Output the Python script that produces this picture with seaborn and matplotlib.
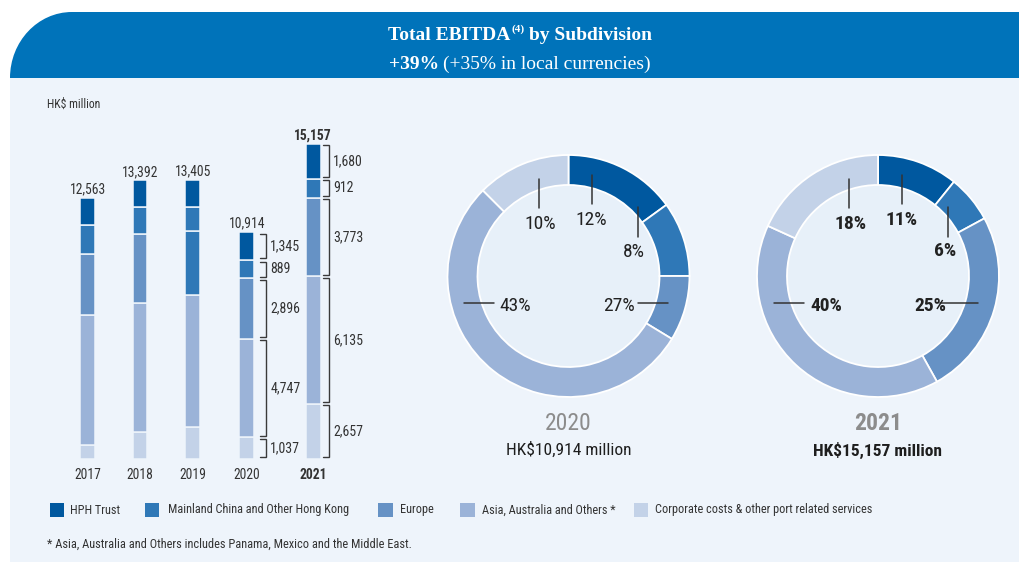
import numpy as np
import pandas as pd
import matplotlib
matplotlib.use("Agg")
import matplotlib.pyplot as plt
import seaborn as sns
from matplotlib import font_manager as fm
from matplotlib.patches import Rectangle, PathPatch, Circle
from matplotlib.path import Path

# ---------------- data ----------------
years = ["2017", "2018", "2019", "2020", "2021"]
segments = ["HPH Trust", "Mainland China and Other Hong Kong", "Europe",
            "Asia, Australia and Others *", "Corporate costs & other port related services"]
hph = [1300, 1300, 1280, 1345, 1680]
mainland = [1410, 1270, 1170, 889, 912]
europe = [2910, 3330, 3090, 2896, 3773]
asia = [6250, 6180, 6350, 4747, 6135]
corporate = [693, 1312, 1515, 1037, 2657]
totals = [12563, 13392, 13405, 10914, 15157]
bracket_years = ["2020", "2021"]

# donut ring shares as drawn in the reference, and their printed labels
donut_years = ["2020", "2021"]
donut_shares_2020 = [15.0, 10.0, 8.7, 53.8, 12.5]
donut_shares_2021 = [10.8, 6.3, 24.8, 39.9, 18.2]
donut_labels_2020 = ["12%", "8%", "27%", "43%", "10%"]
donut_labels_2021 = ["11%", "6%", "25%", "40%", "18%"]
donut_totals = ["HK$10,914 million", "HK$15,157 million"]

title_main = "Total EBITDA"
title_sup = "(4)"
title_rest = "by Subdivision"
sub_bold = "+39%"
sub_rest = "(+35% in local currencies)"
unit_label = "HK$ million"
footnote = "* Asia, Australia and Others includes Panama, Mexico and the Middle East."

# ---------------- style ----------------
sns.set_theme(style="white")
avail = {f.name for f in fm.fontManager.ttflist}


def pick(*names, default="DejaVu Sans"):
    for n in names:
        if n in avail:
            return n
    return default


SANS = pick("Roboto Condensed", "Liberation Sans Narrow", "Open Sans Condensed", "Liberation Sans")
SERIF = pick("Liberation Serif", "DejaVu Serif")
plt.rcParams["font.family"] = [SANS, "DejaVu Sans"]

seg_colors = dict(zip(segments, ["#00589F", "#2F78B7", "#6692C5", "#9BB3D8", "#C3D2E8"]))
color_overrides = {("2019", "Europe"): seg_colors["Mainland China and Other Hong Kong"]}
PANEL = "#EEF4FB"
INNER = "#E7F0F9"
HEADER = "#0073BA"
TXT = "#333333"

fig = plt.figure(figsize=(10.2, 5.62), dpi=100)
fig.patch.set_facecolor("white")

bg = fig.add_axes([0, 0, 1, 1])
bg.set_xlim(0, 1020)
bg.set_ylim(562, 0)
bg.axis("off")
bg.add_patch(Rectangle((10, 78), 1010, 490, facecolor=PANEL, edgecolor="none"))
k = 0.5523
verts = [(10, 78), (10, 78 - k * 66), (72 - k * 62, 12), (72, 12), (1020, 12), (1020, 78), (10, 78)]
codes = [Path.MOVETO, Path.CURVE4, Path.CURVE4, Path.CURVE4, Path.LINETO, Path.LINETO, Path.CLOSEPOLY]
bg.add_patch(PathPatch(Path(verts, codes), facecolor=HEADER, edgecolor="none"))

renderer = fig.canvas.get_renderer()


def rich_line(xc, y, pieces):
    texts = []
    for s, dy, gap, kw in pieces:
        t = bg.text(0, y + dy, s, ha="left", va="baseline", **kw)
        texts.append((t, gap))
    widths = [t.get_window_extent(renderer).width for t, _ in texts]
    total = sum(widths) + sum(g for _, g in texts)
    x = xc - total / 2
    for (t, g), w in zip(texts, widths):
        t.set_x(x)
        x += w + g


tkw = dict(family=SERIF, color="white")
rich_line(520, 40, [(title_main, 0, 1, dict(fontsize=14, fontweight="bold", **tkw)),
                    (title_sup, -8, 4, dict(fontsize=8, fontweight="bold", **tkw)),
                    (title_rest, 0, 0, dict(fontsize=14, fontweight="bold", **tkw))])
rich_line(520, 69, [(sub_bold, 0, 4, dict(fontsize=14, fontweight="bold", **tkw)),
                    (sub_rest, 0, 0, dict(fontsize=14, **tkw))])

bg.text(47, 104, unit_label, fontsize=8.5, color=TXT, ha="left", va="center")

# ---------------- stacked bars ----------------
bar_x = [87.7, 140.0, 192.7, 246.7, 313.3]
BAR_W = 14.5
SCALE = 0.0208
BASE, TOP = 459, 128
axb = fig.add_axes([40 / 1020, (562 - BASE) / 562, 340 / 1020, (BASE - TOP) / 562])
axb.patch.set_alpha(0)

stack = [("Corporate costs & other port related services", corporate),
         ("Asia, Australia and Others *", asia),
         ("Europe", europe),
         ("Mainland China and Other Hong Kong", mainland),
         ("HPH Trust", hph)]
bottom = np.zeros(len(years))
seg_bounds = {}
min_gap = np.min(np.diff(bar_x))
for name, vals in stack:
    vals = np.asarray(vals, dtype=float)
    df = pd.DataFrame({"pos": bar_x, "value": vals})
    n_before = len(axb.patches)
    sns.barplot(data=df, x="pos", y="value", native_scale=True, color=seg_colors[name],
                saturation=1, width=BAR_W / min_gap, bottom=bottom.copy(), ax=axb,
                errorbar=None, edgecolor=PANEL, linewidth=1.1)
    for p, yr in zip(axb.patches[n_before:], years):
        if (yr, name) in color_overrides:
            p.set_facecolor(color_overrides[(yr, name)])
    for i, yr in enumerate(years):
        seg_bounds.setdefault(yr, []).append((bottom[i], bottom[i] + vals[i], vals[i]))
    bottom += vals

axb.set_xlim(40, 380)
axb.set_ylim(0, (BASE - TOP) / SCALE)
for s in axb.spines.values():
    s.set_visible(False)
axb.set_yticks([])
axb.set_xlabel("")
axb.set_ylabel("")
axb.set_xticks(bar_x, labels=years)
axb.tick_params(axis="x", length=0, pad=6.5, labelsize=9.8, labelcolor=TXT)
for lab in axb.get_xticklabels():
    if lab.get_text() == "2021":
        lab.set_fontweight("bold")

for x, tot, yr in zip(bar_x, totals, years):
    axb.annotate(f"{tot:,}", (x, tot), xytext=(0, 1), textcoords="offset points",
                 ha="center", va="bottom", fontsize=9.8, color=TXT,
                 fontweight="bold" if yr == "2021" else "normal")

bracket_dx = {"2020": 19.5, "2021": 15.7}
inset = 1.6 / SCALE
for yr in bracket_years:
    i = years.index(yr)
    bx = bar_x[i] + bracket_dx[yr]
    for lo, hi, v in seg_bounds[yr]:
        y0, y1 = lo + inset, hi - inset
        axb.plot([bx - 6, bx, bx, bx - 6], [y0, y0, y1, y1], color="#3A3A3A", lw=1.0,
                 solid_joinstyle="miter", clip_on=False)
        axb.text(bx + 4, (lo + hi) / 2, f"{int(v):,}", ha="left", va="center",
                 fontsize=10, color=TXT)

# ---------------- donuts ----------------
donut_cx = [568.5, 878.0]
DCY = 276
R_OUT, RING = 121, 30
# label layout: (text dx, text dy, line x0, y0, x1, y1) in px, y down
lab_layout_2020 = [(22.5, -56, 23.5, -101, 23.5, -72),
                   (65.5, -24, 69.5, -69, 69.5, -39),
                   (50.5, 30, 69.5, 27, 99.5, 27),
                   (-53.5, 30, -104.5, 27, -74.5, 27),
                   (-28.5, -52, -29.5, -97, -29.5, -68)]
lab_layout_2021 = [(24, -56, 24.3, -101, 24.3, -72),
                   (67, -24.5, 70.3, -69, 70.3, -39),
                   (52, 30, 62, 27, 100, 27),
                   (-52, 30, -104, 27, -74, 27),
                   (-27, -52, -29, -97, -29, -68)]

donut_data = [(donut_shares_2020, donut_labels_2020, lab_layout_2020),
              (donut_shares_2021, donut_labels_2021, lab_layout_2021)]
for j, (yr, cx) in enumerate(zip(donut_years, donut_cx)):
    shares, labels, layout = donut_data[j]
    axd = fig.add_axes([(cx - 130) / 1020, (562 - DCY - 130) / 562, 260 / 1020, 260 / 562])
    axd.set_xlim(-130, 130)
    axd.set_ylim(-130, 130)
    axd.axis("off")
    axd.add_patch(Circle((0, 0), R_OUT - RING, facecolor=INNER, edgecolor="none", zorder=0))
    axd.pie(shares, colors=[seg_colors[s] for s in segments], startangle=90,
            counterclock=False, radius=R_OUT, frame=True,
            wedgeprops=dict(width=RING, edgecolor="white", linewidth=1.3))
    axd.set_xlim(-130, 130)
    axd.set_ylim(-130, 130)
    axd.axis("off")
    bold = "bold" if yr == "2021" else "normal"
    for lab, (tx, ty, lx0, ly0, lx1, ly1) in zip(labels, layout):
        axd.plot([lx0, lx1], [-ly0, -ly1], color="#333333", lw=1.1)
        axd.text(tx, -ty, lab, ha="center", va="center", fontsize=14, color="#222222",
                 fontweight=bold)
    bg.text(cx, 423, yr, ha="center", va="center", fontsize=17, color="#8C8C8C",
            fontweight=bold)
    bg.text(cx, 450, donut_totals[j], ha="center", va="center", fontsize=12.5,
            color="#1E1E1E", fontweight=bold)

# ---------------- legend & footnote ----------------
leg_sq_x = [50, 145, 378.5, 460.5, 634]
leg_tx_x = [70, 168, 400, 482, 655]
for s, sx, tx in zip(segments, leg_sq_x, leg_tx_x):
    bg.add_patch(Rectangle((sx, 502.5), 14.5, 14.5, facecolor=seg_colors[s], edgecolor="none"))
    bg.text(tx, 510, s, ha="left", va="center", fontsize=8.8, color=TXT)
bg.text(47, 544, footnote, ha="left", va="center", fontsize=8.9, color=TXT)

fig.savefig("out.png", dpi=100, facecolor="white")
